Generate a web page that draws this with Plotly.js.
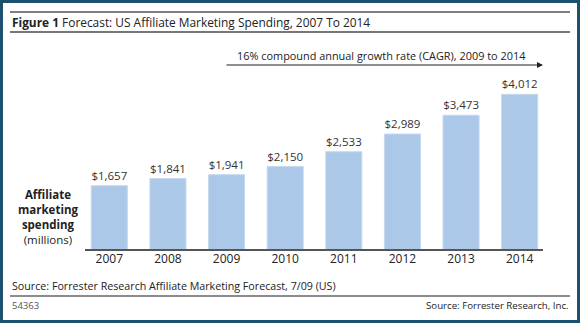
<!DOCTYPE html>
<html>
<head>
<meta charset="utf-8">
<script src="https://cdn.plot.ly/plotly-3.0.1.min.js"></script>
<style>
html,body{margin:0;padding:0;background:#fff;}
#chart{width:580px;height:323px;}
</style>
</head>
<body>
<div id="chart"></div>
<script>
const years = ["2007","2008","2009","2010","2011","2012","2013","2014"];
const spending = [1657, 1841, 1941, 2150, 2533, 2989, 3473, 4012];

const W = 580, H = 323;
const M = {l: 80, r: 31, t: 70, b: 73};
const PW = W - M.l - M.r, PH = H - M.t - M.b;
const px = p => (p - M.l) / PW;
const py = q => (H - M.b - q) / PH;
const FONT = "Open Sans, Noto Sans, sans-serif";

const trace = {
  type: "bar",
  x: years,
  y: spending,
  marker: {color: "#abc8e8", line: {color: "#c4d8ee", width: 1}},
  texttemplate: "$%{y:,}",
  textposition: "outside",
  textfont: {family: FONT, size: 11.5, color: "#333"},
  cliponaxis: false,
  hoverinfo: "none"
};

const shapes = [
  {type: "rect", xref: "paper", yref: "paper", x0: px(1.5), x1: px(578.5), y0: py(1.5), y1: py(321.5),
   line: {color: "#1d4f6f", width: 3}},
  {type: "line", xref: "paper", yref: "paper", x0: px(10), x1: px(570), y0: py(12), y1: py(12),
   line: {color: "#555", width: 1.5}},
  {type: "line", xref: "paper", yref: "paper", x0: px(10), x1: px(570), y0: py(32), y1: py(32),
   line: {color: "#777", width: 2}},
  {type: "line", xref: "paper", yref: "paper", x0: px(85), x1: px(543), y0: 0, y1: 0,
   line: {color: "#555", width: 2}},
  {type: "line", xref: "paper", yref: "paper", x0: px(10), x1: px(570), y0: py(296), y1: py(296),
   line: {color: "#666", width: 1.5}}
];

const annotations = [
  {xref: "paper", yref: "paper", x: px(10), y: py(22), xanchor: "left", yanchor: "middle", showarrow: false,
   text: "<b>Figure 1</b> Forecast: US Affiliate Marketing Spending, 2007 To 2014",
   font: {family: FONT, size: 11.9, color: "#222"}},
  {xref: "paper", yref: "paper", x: px(381), y: py(55), xanchor: "center", yanchor: "middle", showarrow: false,
   text: "16% compound annual growth rate (CAGR), 2009 to 2014",
   font: {family: FONT, size: 10.9, color: "#222"}},
  {xref: "paper", yref: "paper", x: px(543), y: py(65), ax: -318, ay: 0, text: "", showarrow: true,
   arrowhead: 2, arrowsize: 1, arrowwidth: 1.2, arrowcolor: "#222"},
  {xref: "paper", yref: "paper", x: px(48), y: py(217), xanchor: "center", yanchor: "middle", showarrow: false,
   text: "<b>Affiliate<br>marketing<br>spending</b><br>(millions)", align: "center",
   font: {family: FONT, size: 11.5, color: "#222"}},
  {xref: "paper", yref: "paper", x: px(10), y: py(286), xanchor: "left", yanchor: "middle", showarrow: false,
   text: "Source: Forrester Research Affiliate Marketing Forecast, 7/09 (US)",
   font: {family: FONT, size: 10.7, color: "#222"}},
  {xref: "paper", yref: "paper", x: px(10), y: py(305), xanchor: "left", yanchor: "middle", showarrow: false,
   text: "54363", font: {family: FONT, size: 9.5, color: "#555"}},
  {xref: "paper", yref: "paper", x: px(571), y: py(305), xanchor: "right", yanchor: "middle", showarrow: false,
   text: "Source: Forrester Research, Inc.", font: {family: FONT, size: 9.7, color: "#222"}}
];

const layout = {
  width: W, height: H,
  margin: M,
  paper_bgcolor: "#fff", plot_bgcolor: "#fff",
  bargap: 0.385,
  showlegend: false,
  xaxis: {type: "category", showgrid: false, showline: false, zeroline: false, ticks: "",
          tickfont: {family: FONT, size: 12, color: "#222"}, fixedrange: true},
  yaxis: {range: [0, 4640], visible: false, fixedrange: true},
  shapes: shapes,
  annotations: annotations
};

Plotly.newPlot("chart", [trace], layout, {staticPlot: true, displayModeBar: false});
</script>
</body>
</html>
